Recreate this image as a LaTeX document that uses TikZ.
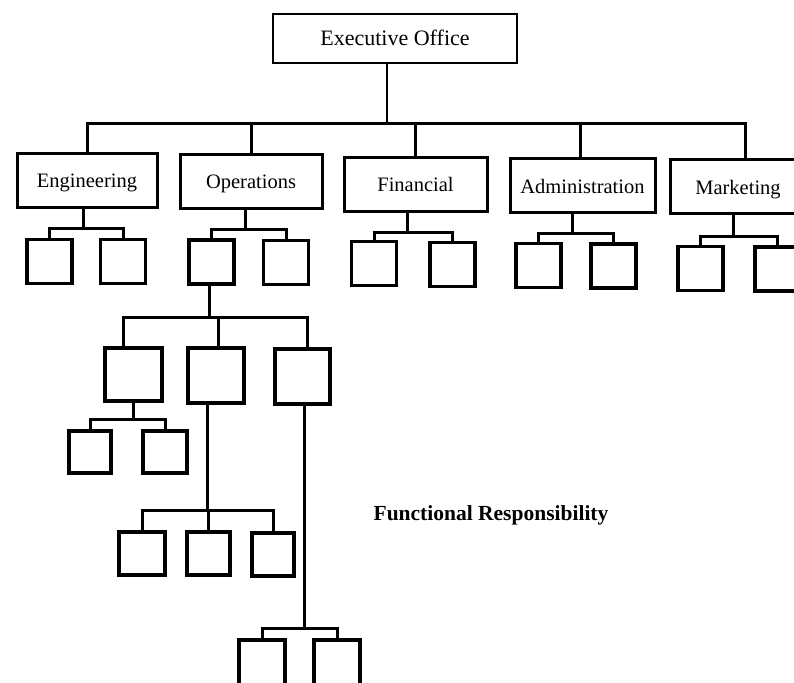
\documentclass[tikz,border=0pt]{standalone}
\usepackage{fontspec}
\setmainfont{Liberation Serif}
\begin{document}
\begin{tikzpicture}[x=1pt,y=-1pt,
  dept/.style={draw,line width=3pt,inner sep=0pt,minimum height=54pt,
    text height=17pt,text depth=2pt,font=\fontsize{20.5}{24}\selectfont},
  unit/.style={draw,line width=3.2pt,inner sep=0pt,minimum width=45pt,minimum height=44pt},
  bigunit/.style={unit,minimum width=56pt,minimum height=54pt},
  conn/.style={line width=3pt,line join=miter},
  thinconn/.style={line width=1.5pt}]
\useasboundingbox (0,0) rectangle (794,682);
\clip (0,0) rectangle (794,682);

% top office
\node[draw,line width=2.6pt,minimum width=244pt,minimum height=49pt,inner sep=0pt,
  text height=17pt,text depth=2pt,
  font=\fontsize{22}{26}\selectfont] (exec) at (395,38.5) {Executive Office};

% departments
\node[dept,minimum width=140pt] (eng) at (87,180)    {Engineering};
\node[dept,minimum width=142pt] (ops) at (251,181)   {Operations};
\node[dept,minimum width=143pt] (fin) at (415.5,184) {Financial};
\node[dept,minimum width=145pt] (adm) at (582.5,185.5) {Administration};
\node[dept,minimum width=136pt,text height=19pt] (mkt) at (738,186)   {Marketing};

\coordinate (busA) at (0,123);
\draw[thinconn] ([xshift=-8pt]exec.south) -- ([xshift=-8pt]exec.south |- busA);
\draw[conn] (eng.north) -- (eng.north |- busA) -- ([xshift=7pt]mkt.north |- busA) -- ([xshift=7pt]mkt.north);
\draw[conn] (ops.north) -- (ops.north |- busA);
\draw[conn] (fin.north) -- (fin.north |- busA);
\draw[conn] ([xshift=-2pt]adm.north) -- ([xshift=-2pt]adm.north |- busA);

% units under each department
\node[unit] (e1) at (49.5,261.5) {};
\node[unit] (e2) at (123,261.5) {};
\node[unit] (o1) at (211.5,262) {};
\node[unit] (o2) at (286,262.5) {};
\node[unit] (f1) at (374,263.5) {};
\node[unit] (f2) at (452.5,264.5) {};
\node[unit] (a1) at (538.5,265.5) {};
\node[unit] (a2) at (613.5,266) {};
\node[unit] (m1) at (700.5,268.5) {};
\node[unit] (m2) at (777.5,269) {};

\coordinate (yE) at (0,228);
\coordinate (yO) at (0,229);
\coordinate (yF) at (0,232);
\coordinate (yA) at (0,233);
\coordinate (yM) at (0,236);
\draw[conn] ([xshift=-4pt]eng.south) -- ([xshift=-4pt]eng.south |- yE);
\draw[conn] (e1.north) -- (e1.north |- yE) -- (e2.north |- yE) -- (e2.north);
\draw[conn] ([xshift=-6pt]ops.south) -- ([xshift=-6pt]ops.south |- yO);
\draw[conn] (o1.north) -- (o1.north |- yO) -- (o2.north |- yO) -- (o2.north);
\draw[conn] ([xshift=-8pt]fin.south) -- ([xshift=-8pt]fin.south |- yF);
\draw[conn] (f1.north) -- (f1.north |- yF) -- (f2.north |- yF) -- (f2.north);
\draw[conn] ([xshift=-10pt]adm.south) -- ([xshift=-10pt]adm.south |- yA);
\draw[conn] (a1.north) -- (a1.north |- yA) -- (a2.north |- yA) -- (a2.north);
\draw[conn] ([xshift=-5pt]mkt.south) -- ([xshift=-5pt]mkt.south |- yM);
\draw[conn] (m1.north) -- (m1.north |- yM) -- (m2.north |- yM) -- (m2.north);

% functional branch below the first operations unit
\node[bigunit,minimum width=57pt,minimum height=53pt] (fa) at (133.5,374.5) {};
\node[bigunit,minimum height=55pt] (fb) at (216,375.5) {};
\node[bigunit,minimum width=55pt,minimum height=55pt] (fc) at (302.5,376.5) {};
\coordinate (yL) at (0,317);
\draw[conn] ([xshift=-2pt]o1.south) -- ([xshift=-2pt]o1.south |- yL);
\draw[conn] ([xshift=-10pt]fa.north) -- ([xshift=-10pt]fa.north |- yL)
  -- ([xshift=5pt]fc.north |- yL) -- ([xshift=5pt]fc.north);
\draw[conn] ([xshift=2pt]fb.north) -- ([xshift=2pt]fb.north |- yL);

% under the left functional unit
\node[unit,minimum width=42pt,minimum height=42pt] (fa1) at (90,452) {};
\node[unit,minimum width=44pt,minimum height=42pt] (fa2) at (165,452) {};
\coordinate (yFa) at (0,419);
\draw[conn] (fa.south) -- (fa.south |- yFa);
\draw[conn] (fa1.north) -- (fa1.north |- yFa) -- (fa2.north |- yFa) -- (fa2.north);

% under the middle functional unit
\node[unit,minimum width=46pt,minimum height=43pt] (fb1) at (142,553.5) {};
\node[unit,minimum width=43pt,minimum height=43pt] (fb2) at (208.5,553.5) {};
\node[unit,minimum width=42pt,minimum height=43pt] (fb3) at (273,554.5) {};
\coordinate (yFb) at (0,510);
\draw[conn] ([xshift=-9pt]fb.south) -- ([xshift=-9pt]fb.south |- yFb);
\draw[conn] (fb1.north) -- (fb1.north |- yFb) -- (fb3.north |- yFb) -- (fb3.north);
\draw[conn] (fb2.north) -- (fb2.north |- yFb);

% under the right functional unit
\node[unit,minimum width=46pt,minimum height=52pt] (fc1) at (262,666) {};
\node[unit,minimum width=46pt,minimum height=52pt] (fc2) at (337,666) {};
\coordinate (yFc) at (0,628);
\draw[conn] ([xshift=2pt]fc.south) -- ([xshift=2pt]fc.south |- yFc);
\draw[conn] (fc1.north) -- (fc1.north |- yFc) -- (fc2.north |- yFc) -- (fc2.north);

\node[font=\bfseries\fontsize{21.5}{25}\selectfont] (title) at (491,515) {Functional Responsibility};
\end{tikzpicture}
\end{document}
